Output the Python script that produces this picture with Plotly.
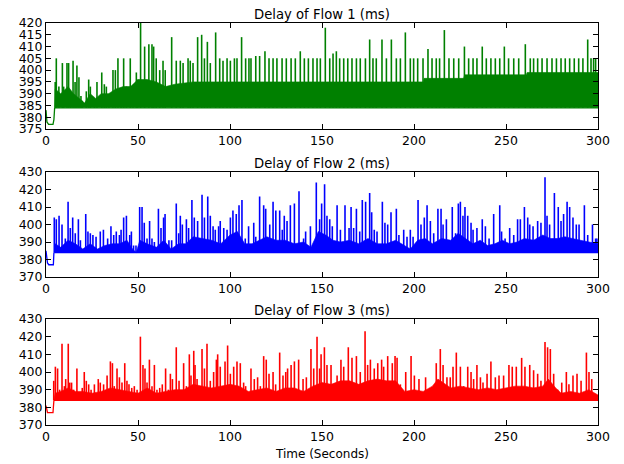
import plotly.graph_objects as go

# ---------------- data ----------------
baseline = 384

# Flow 1
f1_lead_t = [0, 0.5, 1.4, 3.8, 4.3, 4.7]
f1_lead_v = [383, 378, 377, 377, 379, 384]
f1_mass_t = [4.7, 5, 8, 12, 15, 18, 21, 24, 27, 30, 34, 38, 42, 46, 50, 55, 60, 65, 70, 80, 90,
             100, 120, 150, 180, 205, 205.5, 227, 227.5, 261, 261.5, 300]
f1_mass_v = [384, 392, 390, 393, 390, 388, 386, 390, 388, 390, 390, 392, 393, 393, 396, 396, 395, 393, 394, 395, 395,
             395, 395, 395, 395, 395, 396.5, 396.5, 398, 398, 399, 399]
f1_spike_t = [5.0, 5.6, 7.0, 8.9, 9.6, 11.4, 12.3, 13.4, 14.7, 15.8, 16.8, 17.9, 19.0, 19.7, 21.9, 23.2, 24.1,
              26.3, 27.7, 30.3, 31.7, 32.8, 34.2, 36.4, 37.7, 39.1, 40.8, 42.2, 43.7, 45.8, 47.3, 49.1, 49.8,
              51.4, 53.6, 55.9, 57.6, 58.5, 59.9, 61.8, 63.6, 64.8, 68.3, 70.8, 73.0, 74.5, 77.2, 78.4, 79.9,
              82.4, 84.6, 86.1, 87.7, 89.3, 92.2, 94.4, 96.2, 98.4, 100.2, 102.4, 103.8, 106.3, 108.5, 110.3,
              111.4, 114.0, 116.1, 119.0, 121.2, 123.4, 125.5, 128.3, 130.6, 133.2, 135.5, 138.2, 140.4, 142.6,
              145.1, 147.3, 149.1, 151.8, 154.2, 156.0, 157.8, 159.6, 161.8, 164.0, 166.3, 168.7, 170.8, 173.6,
              175.9, 177.7, 179.5, 182.6, 185.0, 187.7, 190.4, 192.6, 195.3, 198.0, 199.8, 202.0, 204.9, 207.6,
              209.8, 212.1, 213.9, 216.5, 219.0, 221.6, 224.3, 227.4, 229.7, 232.1, 234.2, 237.1, 239.3, 241.8,
              244.2, 246.6, 249.1, 251.4, 254.2, 256.9, 260.5, 263.2, 265.0, 267.2, 269.6, 272.3, 275.0, 277.4,
              279.9, 282.2, 284.6, 287.1, 289.5, 291.8, 294.4, 296.2, 297.6, 298.7]
f1_spike_v = [395, 405, 393, 403, 393, 403, 403, 387, 404, 395, 402, 397, 389, 387, 391, 396, 393,
              387, 395, 399, 394, 393, 390, 400, 400, 405, 392, 405, 393, 405, 393, 399, 396,
              420, 410, 411, 411, 410, 405, 400, 404, 400, 414, 404, 404, 403, 405, 404, 403,
              414, 415, 405, 412, 403, 416, 405, 404, 405, 404, 405, 405, 414, 405, 405,
              405, 406, 406, 408, 405, 405, 405, 405, 405, 405, 405, 408, 405, 405,
              405, 405, 405, 418, 405, 407, 408, 405, 405, 405, 405, 405, 405, 405,
              413, 405, 405, 413, 405, 413, 405, 405, 416, 405, 405, 405, 405, 409,
              405, 405, 405, 417, 405, 405, 405, 410, 405, 405, 405, 410, 405, 405,
              405, 405, 410, 405, 405, 405, 411, 405, 405, 405, 405, 405, 405, 405,
              405, 405, 405, 405, 405, 405, 413, 405, 405, 405]

# Flow 2
f2_lead_t = [0, 0.3, 0.8, 1.5, 4.0, 4.3]
f2_lead_v = [385, 381, 378, 377, 377, 384]
f2_mass_t = [4.5, 5, 8, 12, 16, 20, 24, 28, 32, 36, 40, 44, 47, 49, 51, 55, 60, 64, 68, 72, 76, 80, 85, 90,
             95, 100, 104, 108, 112, 116, 120, 125, 130, 135, 140, 144, 148, 152, 156, 160, 165, 170, 175,
             180, 185, 190, 195, 198, 202, 206, 210, 215, 220, 224, 228, 232, 236, 240, 244, 248, 252, 256,
             260, 265, 270, 274, 278, 282, 286, 290, 295, 300]
f2_mass_v = [384, 389, 387, 391, 389, 386, 389, 386, 388, 389, 389, 391, 386, 384, 391, 389, 387, 391, 386, 389,
             389, 393, 392, 391, 389, 394, 396, 389, 389, 391, 393, 391, 391, 389, 390, 387, 396, 394, 391,
             390, 391, 389, 392, 389, 389, 391, 388, 386, 391, 392, 389, 392, 391, 395, 392, 389, 391, 388,
             389, 391, 389, 390, 392, 391, 394, 392, 392, 393, 392, 391, 390, 389]
f2_spike_t = [4.5, 5.6, 7.1, 8.7, 10.5, 12.0, 13.2, 14.5, 15.9, 17.6, 18.7, 21.6, 22.8, 24.1, 25.5, 27.2, 29.5,
              31.2, 33.5, 35.3, 36.8, 38.2, 39.9, 40.8, 42.2, 43.7, 45.5, 46.4, 47.6, 48.9, 50.9, 52.2, 53.4,
              54.9, 56.3, 57.6, 58.9, 61.1, 62.5, 63.9, 64.7, 66.8, 68.3, 70.8, 72.1, 73.0, 74.1, 76.3, 77.5,
              79.3, 80.6, 82.4, 84.8, 86.1, 87.9, 89.3, 90.8, 92.0, 93.8, 94.7, 96.6, 98.4, 100.2, 101.6,
              103.4, 104.9, 106.5, 108.3, 110.1, 112.9, 114.0, 116.1, 118.3, 119.4, 121.6, 123.4, 124.9,
              127.0, 128.4, 129.5, 131.0, 132.8, 135.0, 137.5, 140.0, 141.1, 143.7, 146.9, 148.7, 149.8,
              151.4, 152.7, 154.2, 155.6, 158.2, 160.0, 162.5, 164.7, 165.8, 167.2, 168.7, 170.5, 171.9,
              173.7, 175.9, 177.0, 178.4, 179.9, 182.8, 184.2, 185.7, 187.5, 190.4, 191.8, 194.4, 196.2,
              198.0, 199.5, 202.2, 203.8, 205.6, 207.1, 208.9, 210.7, 213.0, 214.7, 215.8, 217.6, 220.8,
              222.6, 224.1, 225.2, 226.6, 227.7, 229.2, 231.0, 232.1, 234.2, 237.1, 238.8, 240.8, 243.3,
              246.6, 247.6, 249.5, 252.0, 254.2, 256.3, 257.8, 260.0, 261.8, 262.9, 264.7, 267.2, 269.0,
              271.2, 272.3, 273.7, 276.3, 278.4, 279.9, 281.3, 283.2, 284.6, 286.4, 288.2, 289.7, 292.6,
              294.4, 297.0, 298.7, 299.4]
f2_spike_v = [404, 403, 405, 400, 392, 413, 398, 404, 395, 403, 391, 406, 396, 395, 394, 393, 396,
              397, 392, 399, 394, 396, 394, 397, 404, 405, 394, 396, 388, 388, 410, 410, 401,
              392, 402, 392, 390, 409, 398, 404, 406, 391, 391, 412, 395, 405, 400, 403, 398,
              414, 404, 402, 417, 404, 416, 405, 399, 397, 399, 402, 398, 397, 404, 408,
              406, 411, 414, 392, 399, 401, 393, 416, 411, 409, 400, 413, 408,
              408, 397, 405, 402, 411, 412, 419, 392, 396, 399, 424, 403, 412,
              423, 405, 403, 399, 411, 397, 411, 398, 410, 398, 409, 396, 414,
              413, 418, 407, 397, 396, 413, 401, 400, 407, 409, 394, 397, 393,
              397, 393, 414, 400, 404, 411, 402, 395, 409, 409, 400, 403, 410,
              395, 412, 413, 405, 410, 405, 401, 397, 398, 403, 399, 392, 406,
              411, 396, 392, 398, 394, 403, 403, 410, 404, 400, 399, 402, 401,
              427, 405, 400, 418, 410, 402, 406, 413, 410, 404, 400, 400, 411,
              394, 400, 392, 392]

# Flow 3
f3_lead_t = [0, 0.3, 0.8, 1.5, 3.8, 4.3]
f3_lead_v = [381, 379, 377, 377, 377, 384]
f3_mass_t = [4.3, 5, 8, 12, 16, 20, 25, 30, 35, 40, 45, 50, 55, 60, 65, 70, 75, 80, 85, 90, 95, 100, 105,
             110, 115, 120, 125, 130, 135, 140, 145, 150, 155, 160, 165, 170, 175, 180, 185, 190, 195, 200,
             205, 210, 213, 216, 220, 225, 230, 235, 240, 245, 250, 255, 260, 265, 270, 273, 277, 280, 285,
             290, 295, 300]
f3_mass_v = [384, 388, 389, 391, 389, 389, 388, 389, 391, 390, 389, 388, 391, 388, 389, 390, 390, 393, 392,
             391, 392, 393, 392, 389, 390, 391, 389, 391, 391, 389, 392, 394, 393, 395, 395, 393, 395, 396,
             395, 395, 389, 390, 389, 392, 396, 394, 391, 392, 391, 390, 391, 390, 391, 392, 392, 391, 392,
             396, 391, 388, 389, 388, 390, 387]
f3_spike_t = [4.2, 5.1, 6.3, 7.4, 8.7, 10.0, 10.7, 12.1, 12.9, 13.9, 15.0, 16.8, 18.3, 19.7, 20.8, 21.9, 23.2,
              24.5, 26.3, 28.4, 29.5, 31.3, 33.2, 35.0, 36.1, 37.1, 38.6, 39.9, 41.3, 42.8, 44.0, 45.1, 46.6,
              48.0, 49.5, 51.3, 52.7, 53.8, 54.9, 56.2, 57.6, 58.9, 60.3, 61.8, 63.2, 65.0, 66.5, 67.6, 68.7,
              70.8, 72.3, 74.8, 76.3, 77.9, 78.8, 80.3, 81.0, 82.1, 84.8, 86.1, 87.5, 89.3, 91.1, 92.6, 93.3,
              94.7, 97.3, 98.7, 100.2, 102.0, 103.8, 105.6, 107.4, 108.5, 111.4, 113.2, 115.0, 116.5, 118.3,
              119.7, 121.2, 123.4, 124.8, 127.0, 128.8, 130.3, 131.3, 133.2, 135.0, 137.3, 139.7, 141.5,
              144.0, 145.5, 147.3, 148.7, 149.5, 151.3, 152.7, 154.9, 158.2, 160.3, 161.8, 164.3, 166.3,
              168.7, 170.8, 173.4, 174.8, 176.3, 178.4, 180.3, 182.4, 183.5, 185.7, 188.2, 189.7, 190.8,
              192.6, 195.5, 198.4, 200.2, 202.7, 206.3, 209.2, 212.1, 214.3, 215.8, 217.9, 219.7, 221.2,
              223.0, 225.2, 227.0, 229.2, 231.0, 232.4, 234.2, 236.1, 237.5, 239.7, 241.8, 244.2, 246.2,
              248.7, 251.6, 253.4, 255.6, 258.5, 260.3, 262.9, 265.0, 267.2, 269.0, 271.2, 272.6, 274.1,
              275.9, 278.1, 280.3, 282.8, 284.2, 286.4, 288.6, 290.8, 293.7, 295.1, 296.6, 298.6, 299.4]
f3_spike_v = [395, 403, 402, 390, 416, 392, 396, 416, 394, 394, 390, 402, 388, 391, 400, 395, 393,
              390, 393, 396, 394, 393, 398, 406, 405, 392, 402, 397, 394, 405, 395, 393, 391,
              392, 390, 420, 404, 402, 394, 407, 392, 404, 390, 391, 393, 402, 390, 399, 396,
              414, 395, 405, 392, 410, 398, 412, 404, 396, 413, 402, 416, 395, 400, 407, 410,
              403, 406, 415, 399, 403, 406, 405, 394, 392, 402, 396, 397, 392, 409,
              407, 399, 400, 393, 411, 398, 400, 402, 404, 406, 407, 396, 397,
              413, 402, 420, 402, 410, 414, 404, 404, 398, 407, 403, 414, 408,
              409, 400, 423, 404, 407, 402, 405, 407, 403, 409, 405, 409, 408,
              393, 400, 409, 398, 396, 397, 390, 405, 413, 404, 397, 397, 403,
              411, 403, 392, 403, 400, 396, 404, 397, 394, 399, 406, 397, 398,
              398, 404, 403, 403, 408, 403, 404, 401, 399, 395, 417, 414, 413,
              399, 390, 394, 400, 393, 398, 399, 395, 411, 400, 396, 386, 386]

titles = ["Delay of Flow 1 (ms)", "Delay of Flow 2 (ms)", "Delay of Flow 3 (ms)"]
colors = ["#008000", "#0000FF", "#FF0000"]
x_ticks = [0, 50, 100, 150, 200, 250, 300]
y1_ticks = [375, 380, 385, 390, 395, 400, 405, 410, 415, 420]
y23_ticks = [370, 380, 390, 400, 410, 420, 430]
x_label = "Time (Seconds)"

flows = [
    (f1_lead_t, f1_lead_v, f1_mass_t, f1_mass_v, f1_spike_t, f1_spike_v),
    (f2_lead_t, f2_lead_v, f2_mass_t, f2_mass_v, f2_spike_t, f2_spike_v),
    (f3_lead_t, f3_lead_v, f3_mass_t, f3_mass_v, f3_spike_t, f3_spike_v),
]

# ---------------- figure ----------------
# the page body adds an 8px margin, so the figure starts 8px in from the window edge
OFF = 8
W, H = 616, 456
# panel pixel extents in the window: x 46..598, y (23..129), (172..277), (319..425)
ml, mr = 46 - OFF, W - (598 - OFF)
mt, mb = 23 - OFF, H - (425 - OFF)
ph = H - mt - mb
panels = [(23 - OFF, 129 - OFF), (172 - OFF, 277 - OFF), (319 - OFF, 425 - OFF)]
domains = [[(H - mb - b) / ph, (H - mb - t) / ph] for (t, b) in panels]
domains = [[max(0.0, d[0]), min(1.0, d[1])] for d in domains]

font = "DejaVu Sans, Bitstream Vera Sans, Arial, sans-serif"
fig = go.Figure()

for i, (lt, lv, mt_, mv, st, sv) in enumerate(flows):
    xa = "x" if i == 0 else f"x{i+1}"
    ya = "y" if i == 0 else f"y{i+1}"
    c = colors[i]
    fig.add_trace(go.Scatter(x=lt, y=lv, mode="lines", line=dict(color=c, width=1.3),
                             xaxis=xa, yaxis=ya, showlegend=False, hoverinfo="skip"))
    fig.add_trace(go.Scatter(x=[mt_[0], 300], y=[baseline, baseline], mode="lines",
                             line=dict(color=c, width=1.3), xaxis=xa, yaxis=ya,
                             showlegend=False, hoverinfo="skip"))
    fig.add_trace(go.Scatter(x=mt_, y=mv, mode="lines", line=dict(color=c, width=0.6),
                             fill="tonexty", fillcolor=c, xaxis=xa, yaxis=ya,
                             showlegend=False, hoverinfo="skip"))
    sx, sy = [], []
    for t, v in zip(st, sv):
        sx += [t, t, None]
        sy += [baseline, v, None]
    fig.add_trace(go.Scatter(x=sx, y=sy, mode="lines", line=dict(color=c, width=1.6),
                             xaxis=xa, yaxis=ya, showlegend=False, hoverinfo="skip",
                             connectgaps=False))

    axis_common = dict(showline=True, linecolor="black", linewidth=1, mirror="ticks",
                       ticks="inside", ticklen=5, tickcolor="black", showgrid=False,
                       zeroline=False)
    xkey = "xaxis" if i == 0 else f"xaxis{i+1}"
    ykey = "yaxis" if i == 0 else f"yaxis{i+1}"
    xdef = dict(domain=[0, 1], range=[0, 300], tickvals=x_ticks, anchor=ya,
                tickfont=dict(family=font, size=12.5, color="black"), **axis_common)
    yticks = y1_ticks if i == 0 else y23_ticks
    ydef = dict(domain=domains[i], range=[yticks[0], yticks[-1]], tickvals=yticks,
                anchor=xa, tickfont=dict(family=font, size=12.5, color="black"), **axis_common)
    fig.update_layout(**{xkey: xdef, ykey: ydef})

    fig.add_annotation(text=titles[i], xref="paper", yref="paper", x=0.5, y=domains[i][1],
                       xanchor="center", yanchor="bottom", yshift=0, borderpad=0, showarrow=False,
                       font=dict(family=font, size=13.2, color="black"))

fig.add_annotation(text=x_label, xref="paper", yref="paper", x=0.5, y=0,
                   xanchor="center", yanchor="top", yshift=-20, showarrow=False,
                   font=dict(family=font, size=12, color="black"))

fig.update_layout(width=W, height=H, margin=dict(l=ml, r=mr, t=mt, b=mb, autoexpand=False),
                  paper_bgcolor="white", plot_bgcolor="white",
                  font=dict(family=font, color="black"))

fig.write_html("out.html")
